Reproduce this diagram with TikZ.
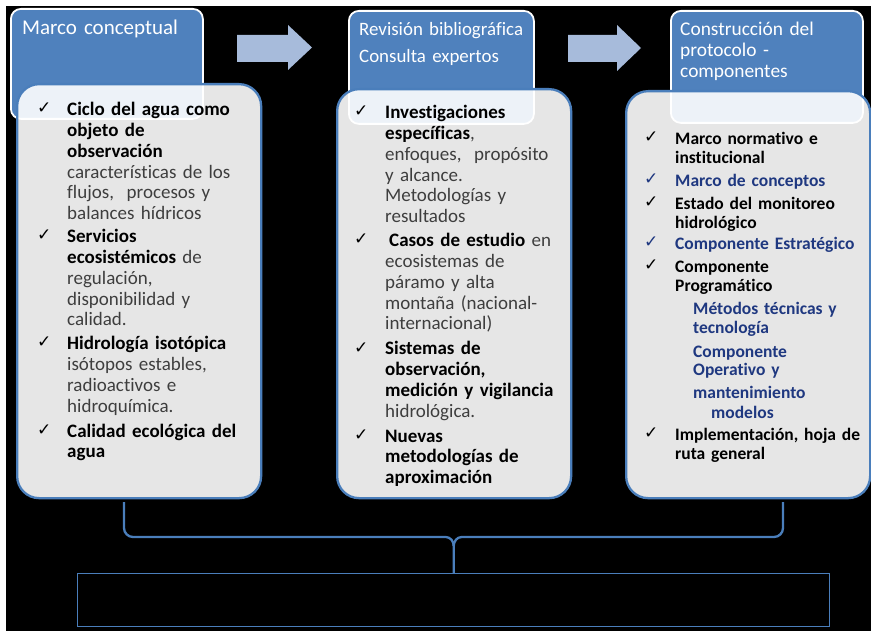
\documentclass[tikz,border=0pt]{standalone}
\usepackage{fontspec}
\setmainfont{Carlito}[Ligatures=NoCommon]
\newfontfamily\symfont{DejaVu Sans}
\usetikzlibrary{calc}

\definecolor{hdrblue}{RGB}{79,129,189}
\definecolor{arrowblue}{RGB}{167,187,219}
\definecolor{edgeblue}{RGB}{74,126,187}
\definecolor{bodytext}{RGB}{62,62,62}
\definecolor{navy}{RGB}{31,56,128}

\newcommand\bk[1]{{\color{black}\bfseries #1}}

\begin{document}
\begin{tikzpicture}[x=1pt,y=-1pt,
  hdr/.style={draw=white, line width=1.8pt, fill=hdrblue, rounded corners=10pt,
    anchor=north west, inner sep=0pt},
  bodybox/.style={draw=edgeblue, line width=2.3pt, fill=white, fill opacity=0.9,
    rounded corners=22pt, anchor=north west, inner sep=0pt},
  hdrtext/.style={anchor=base west, inner sep=0pt, align=left, text width=190pt,
    text=white},
  chk/.style={anchor=base west, inner sep=0pt, font=\symfont\fontsize{17}{17}\selectfont},
  itemA/.style={anchor=base west, inner sep=0pt, align=left, text width=240pt,
    text=bodytext, font=\fontsize{19}{20.7}\selectfont},
  itemB/.style={anchor=base west, inner sep=0pt, align=left, text width=200pt,
    font=\bfseries\fontsize{17.5}{19}\selectfont},
  blueflow/.style={arrowblue},
  brace/.style={draw=edgeblue, line width=2.3pt, line join=round},
  result/.style={draw=edgeblue, line width=1.4pt, anchor=north west, inner sep=0pt}
]
\useasboundingbox (0,0) rectangle (871,631);
\fill[white] (0,0) rectangle (871,631);
\fill[black] (6,6) rectangle (871,631);

% flow arrows between the stages
\fill[blueflow] (237,35) -- (288,35) -- (288,25) -- (312,47.5) -- (288,70) -- (288,62) -- (237,62) -- cycle;
\fill[blueflow] (568,35) -- (617,35) -- (617,25) -- (641,48) -- (617,71) -- (617,62) -- (568,62) -- cycle;

% stage headers
\node[hdr, minimum width=192pt, minimum height=110pt] (h1) at (10,8) {};
\node[hdr, minimum width=185pt, minimum height=113pt] (h2) at (348,10) {};
\node[hdr, minimum width=192pt, minimum height=112pt] (h3) at (670,10) {};

% content panels (translucent, over the headers)
\node[bodybox, minimum width=244pt, minimum height=414pt] (b1) at (16,83) {};
\node[bodybox, minimum width=234pt, minimum height=409pt] (b2) at (336,88) {};
\node[bodybox, minimum width=244pt, minimum height=407pt] (b3) at (625,90) {};

% result box and the brace gathering the three stages
\node[result, minimum width=752pt, minimum height=53pt] (res) at (77,573) {};
\coordinate (brL) at (124,502);
\coordinate (brR) at (783,502);
\coordinate (brM) at ($(res.north)+(0,-36)$);
\draw[brace] (brL) -- ($(brL)+(0,26)$) to[out=-90,in=180] ($(brL)+(9,35)$)
  -- ($(brM)+(-8,0)$) to[out=0,in=90] ($(brM)+(0,9)$) -- (res.north);
\draw[brace] (brR) -- ($(brR)+(0,26)$) to[out=-90,in=0] ($(brR)+(-9,35)$)
  -- ($(brM)+(8,0)$) to[out=180,in=90] ($(brM)+(0,9)$);

% header texts
\node[hdrtext, font=\fontsize{21}{24}\selectfont] (t1) at (22,35) {Marco conceptual};
\node[hdrtext, font=\fontsize{18.9}{27}\selectfont] (t2) at (359,36) {Revisión bibliográfica\\Consulta expertos};
\node[hdrtext, font=\fontsize{19.4}{21}\selectfont] (t3) at (680,36) {Construcción del\\protocolo -\\componentes};

% first column
\node[chk] (k11) at (37,114) {✓};
\node[itemA] (p11) at (67,116) {\bk{Ciclo del agua como}\\\bk{objeto de}\\\bk{observación}\\características de los\\flujos,\ \ procesos y\\balances hídricos};
\node[chk] (k12) at (37,241) {✓};
\node[itemA] (p12) at (67,243) {\bk{Servicios}\\\bk{ecosistémicos} de\\regulación,\\disponibilidad y\\calidad.};
\node[chk] (k13) at (37,348) {✓};
\node[itemA] (p13) at (67,350) {\bk{Hidrología isotópica}\\isótopos estables,\\radioactivos e\\hidroquímica.};
\node[chk] (k14) at (37,435) {✓};
\node[itemA] (p14) at (67,437) {\bk{Calidad ecológica del}\\\bk{agua}};

% second column
\node[chk] (k21) at (354,117) {✓};
\node[itemA] (p21) at (385,119) {\bk{Investigaciones}\\\bk{específicas},\\enfoques,\ \ propósito\\y alcance.\\Metodologías y\\resultados};
\node[chk] (k22) at (354,245) {✓};
\node[itemA] (p22) at (385,247) {\hspace*{4pt}\bk{Casos de estudio} en\\ecosistemas de\\páramo y alta\\montaña (nacional-\\internacional)};
\node[chk] (k23) at (354,353) {✓};
\node[itemA] (p23) at (385,355) {\bk{Sistemas de}\\\bk{observación,}\\\bk{medición y vigilancia}\\hidrológica.};
\node[chk] (k24) at (354,440) {✓};
\node[itemA] (p24) at (385,442) {\bk{Nuevas}\\\bk{metodologías de}\\\bk{aproximación}};

% third column
\node[chk] (k31) at (644,143) {✓};
\node[itemB] (p31) at (675,145) {Marco normativo e\\institucional};
\node[chk, text=navy] (k32) at (644,185) {✓};
\node[itemB, text=navy] (p32) at (675,187) {Marco de conceptos};
\node[chk] (k33) at (644,208) {✓};
\node[itemB] (p33) at (675,210) {Estado del monitoreo\\hidrológico};
\node[chk, text=navy] (k34) at (644,248) {✓};
\node[itemB, text=navy] (p34) at (675,250) {Componente Estratégico};
\node[chk] (k35) at (644,271) {✓};
\node[itemB] (p35) at (675,273) {Componente\\Programático};
\node[itemB, text=navy] (p36) at (693,315) {Métodos técnicas y\\tecnología};
\node[itemB, text=navy] (p37) at (693,357) {Componente\\Operativo y};
\node[itemB, text=navy] (p38) at (693,398) {mantenimiento};
\node[itemB, text=navy] (p39) at (711,418) {modelos};
\node[chk] (k310) at (644,438) {✓};
\node[itemB] (p310) at (675,440) {Implementación, hoja de\\ruta general};
\end{tikzpicture}
\end{document}
